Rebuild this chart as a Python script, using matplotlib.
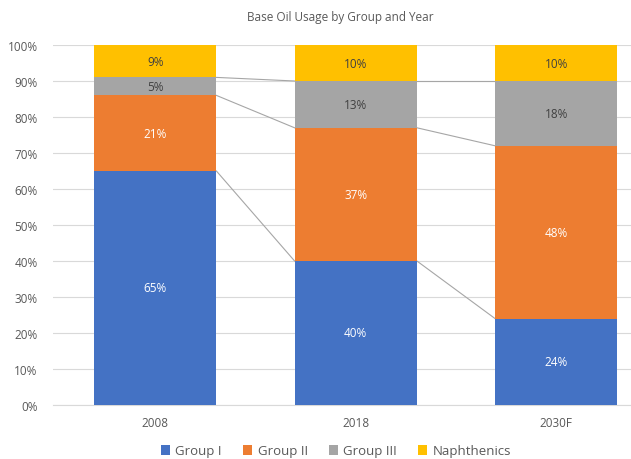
import matplotlib

matplotlib.use("Agg")
import matplotlib.pyplot as plt
import numpy as np
from matplotlib.ticker import PercentFormatter

years = ["2008", "2018", "2030F"]
groups = ["Group I", "Group II", "Group III", "Naphthenics"]
group_1 = [65, 40, 24]
group_2 = [21, 37, 48]
group_3 = [5, 13, 18]
naphthenics = [9, 10, 10]

colors = ["#4472C4", "#ED7D31", "#A5A5A5", "#FFC000"]
label_colors = ["white", "white", "#404040", "#404040"]

plt.rcParams["font.family"] = ["Open Sans", "DejaVu Sans"]

fig = plt.figure(figsize=(6.31, 4.60), dpi=100)
ax = fig.add_axes([53 / 631, 54 / 460, 601.5 / 631, 360 / 460])

x = np.arange(len(years))
width = 0.61
series = [group_1, group_2, group_3, naphthenics]
bottom = np.zeros(len(years))
tops = []
for name, vals, col, tcol in zip(groups, series, colors, label_colors):
    vals = np.array(vals, dtype=float)
    ax.bar(x + 0.01, vals, width, bottom=bottom, color=col, label=name, zorder=3)
    for xi, b, v in zip(x, bottom, vals):
        ax.text(xi + 0.01, b + v / 2, f"{v:.0f}%", ha="center", va="center",
                fontsize=8.5, color=tcol, zorder=4)
    bottom = bottom + vals
    tops.append(bottom.copy())

# series lines joining the segment tops between neighbouring bars
for level in tops[:-1]:
    for i in range(len(years) - 1):
        ax.plot([x[i] + 0.01 + width / 2, x[i + 1] + 0.01 - width / 2],
                [level[i], level[i + 1]], color="#A6A6A6", linewidth=0.8, zorder=2)

ax.set_xlim(-0.5, 2.5)
ax.set_ylim(0, 100)
ax.set_yticks(np.arange(0, 101, 10))
ax.yaxis.set_major_formatter(PercentFormatter(decimals=0))
ax.set_xticks(x + 0.01)
ax.set_xticklabels(years)
ax.tick_params(axis="both", length=0, labelsize=8.5, labelcolor="#595959")
ax.tick_params(axis="y", pad=11)
ax.tick_params(axis="x", pad=8)
ax.grid(axis="y", color="#D9D9D9", linewidth=0.8, zorder=0)
for spine in ax.spines.values():
    spine.set_visible(False)
ax.spines["bottom"].set_visible(True)
ax.spines["bottom"].set_color("#D9D9D9")

fig.text(340 / 631, 1 - 18 / 460, "Base Oil Usage by Group and Year",
         ha="center", va="center", fontsize=8.5, color="#595959")

handles, labels = ax.get_legend_handles_labels()
fig.legend(handles, labels, loc="center", bbox_to_anchor=(336 / 631, 1 - 452 / 460),
           ncol=4, frameon=False, fontsize=9.5, handlelength=0.7, handleheight=0.7,
           handletextpad=0.4, columnspacing=1.6, labelcolor="#595959")

fig.savefig("out.png", dpi=100)
